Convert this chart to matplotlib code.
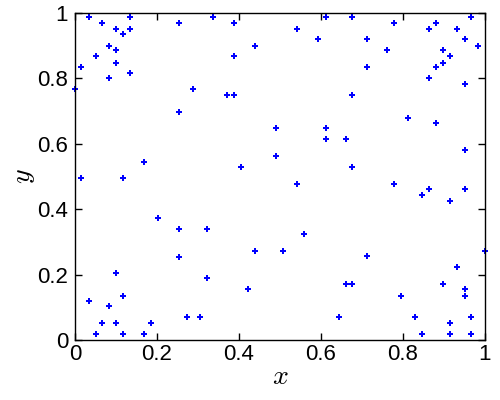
import matplotlib
matplotlib.use("Agg")
import matplotlib.pyplot as plt

# point coordinates
x = [0.033, 0.067, 0.135, 0.101, 0.135, 0.118, 0.084, 0.101, 0.050, 0.101,
     0.015, 0.135, 0.084, 0.000, 0.254, 0.289, 0.254, 0.169, 0.015, 0.118,
     0.203, 0.254, 0.323, 0.254, 0.101, 0.323, 0.033, 0.118, 0.084, 0.272,
     0.306, 0.067, 0.101, 0.186, 0.050, 0.118, 0.169,
     0.337, 0.389, 0.611, 0.542, 0.593, 0.440, 0.389, 0.371, 0.389, 0.491,
     0.611, 0.611, 0.662, 0.491, 0.406,
     0.542, 0.559, 0.440, 0.508, 0.423, 0.662, 0.645,
     0.676, 0.779, 0.881, 0.967, 0.864, 0.932, 0.711, 0.950, 0.984, 0.762,
     0.898, 0.915, 0.898, 0.711, 0.881, 0.864, 0.950, 0.676, 0.813, 0.881,
     0.950, 0.676,
     0.779, 0.847, 0.864, 0.950, 0.915, 1.000, 0.711, 0.932, 0.676, 0.898,
     0.950, 0.796, 0.950, 0.830, 0.967, 0.915, 0.847, 0.915, 0.967]
y = [0.986, 0.968, 0.986, 0.952, 0.952, 0.934, 0.900, 0.885, 0.867, 0.848,
     0.833, 0.815, 0.800, 0.766, 0.968, 0.766, 0.696, 0.543, 0.494, 0.494,
     0.374, 0.340, 0.340, 0.255, 0.204, 0.188, 0.118, 0.136, 0.103, 0.069,
     0.069, 0.051, 0.051, 0.051, 0.017, 0.017, 0.017,
     0.986, 0.968, 0.986, 0.952, 0.919, 0.900, 0.867, 0.748, 0.748, 0.647,
     0.647, 0.613, 0.613, 0.561, 0.528,
     0.476, 0.323, 0.271, 0.271, 0.155, 0.170, 0.069,
     0.986, 0.968, 0.968, 0.986, 0.952, 0.952, 0.919, 0.919, 0.900, 0.885,
     0.885, 0.867, 0.848, 0.833, 0.833, 0.800, 0.781, 0.748, 0.680, 0.662,
     0.580, 0.528,
     0.476, 0.442, 0.460, 0.460, 0.424, 0.271, 0.256, 0.222, 0.170, 0.170,
     0.155, 0.136, 0.136, 0.069, 0.069, 0.051, 0.017, 0.017, 0.017]
ticks = [0, 0.2, 0.4, 0.6, 0.8, 1]
tick_labels = ["0", "0.2", "0.4", "0.6", "0.8", "1"]

plt.rcParams["font.family"] = ["Liberation Sans", "DejaVu Sans"]
plt.rcParams["mathtext.fontset"] = "cm"

fig = plt.figure(figsize=(5, 4), dpi=100)
ax = fig.add_axes([0.15, 0.15, 0.82, 0.818])
ax.plot(x, y, linestyle="none", marker="P", markersize=3.8,
        color=(0, 0, 1), markeredgewidth=0, clip_on=False)

ax.set_xlim(0, 1)
ax.set_ylim(0, 1)
ax.set_xticks(ticks)
ax.set_xticklabels(tick_labels)
ax.set_yticks(ticks)
ax.set_yticklabels(tick_labels)
ax.tick_params(direction="in", length=5, width=1, labelsize=16,
               top=True, right=True)
ax.tick_params(axis="x", pad=3)
ax.tick_params(axis="y", pad=5)
for s in ax.spines.values():
    s.set_linewidth(1)

ax.set_xlabel("$x$", fontsize=20, labelpad=-1)
ax.set_ylabel("$y$", fontsize=20, labelpad=0)

fig.savefig("out.png", dpi=100)
